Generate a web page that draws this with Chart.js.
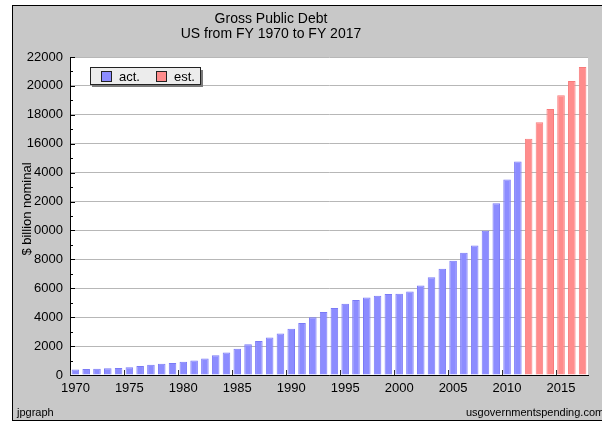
<!DOCTYPE html>
<html>
<head>
<meta charset="utf-8">
<script src="https://cdn.jsdelivr.net/npm/chart.js@4"></script>
<style>
  html, body { margin: 0; padding: 0; background: #fff; }
  #wrap { width: 602px; height: 422px; }
</style>
</head>
<body>
<div id="wrap"><canvas id="debt-chart" width="602" height="422"></canvas></div>
<script>
// Gross public debt, $ billion nominal
const years = [];
for (let y = 1970; y <= 2017; y++) years.push(String(y));

const actualDebt = [
    381, 408, 436, 466, 484, 542, 629, 706, 777, 829,        // 1970-1979
    909, 995, 1137, 1372, 1565, 1817, 2121, 2346, 2601, 2868, // 1980-1989
    3206, 3598, 4002, 4351, 4643, 4921, 5181, 5369, 5478, 5606, // 1990-1999
    5629, 5770, 6198, 6760, 7355, 7905, 8451, 8951, 9986, 11876, // 2000-2009
    13529, 14764 // 2010-2011
];
const estimatedDebt = [16340, 17490, 18410, 19350, 20340, 21310]; // 2012-2017

const titleLines = ["Gross Public Debt", "US from FY 1970 to FY 2017"];
const yAxisTitle = "$ billion nominal";
const footerLeft = "jpgraph";
const footerRight = "usgovernmentspending.com";

// pad the two series so both cover every year
const actSeries = years.map((y, i) => i < actualDebt.length ? actualDebt[i] : null);
const estSeries = years.map((y, i) => i < actualDebt.length ? null : estimatedDebt[i - actualDebt.length]);

const FONT = "'Liberation Sans', Arial, sans-serif";
Chart.defaults.font.family = FONT;
Chart.defaults.font.size = 13;
Chart.defaults.color = "#000";

// gray frame behind everything
const framePlugin = {
    id: "frame",
    beforeDraw(chart) {
        const ctx = chart.ctx;
        ctx.save();
        ctx.fillStyle = "#fff";
        ctx.fillRect(0, 0, chart.width, chart.height);
        ctx.fillStyle = "#c8c8c8";
        ctx.fillRect(12, 5, chart.width, 416);
        ctx.strokeStyle = "#000";
        ctx.lineWidth = 1;
        ctx.strokeRect(12.5, 5.5, chart.width + 10, 415);
        // white plot area
        const a = chart.chartArea;
        ctx.fillStyle = "#fff";
        ctx.fillRect(a.left, a.top, a.right - a.left, a.bottom - a.top);
        ctx.restore();
    }
};

// titles, tick marks, legend box, y title and footer
const decorPlugin = {
    id: "decor",
    afterDraw(chart) {
        const ctx = chart.ctx;
        const a = chart.chartArea;
        const xs = chart.scales.x;
        const ys = chart.scales.y;
        ctx.save();

        // title
        ctx.fillStyle = "#000";
        ctx.font = "14px " + FONT;
        ctx.textAlign = "center";
        ctx.textBaseline = "alphabetic";
        ctx.fillText(titleLines[0], 271, 23);
        ctx.fillText(titleLines[1], 271, 38);

        // y tick marks inside the plot (every 1000)
        ctx.strokeStyle = "#000";
        ctx.lineWidth = 1;
        for (let v = 0; v <= 22000; v += 1000) {
            const py = Math.round(ys.getPixelForValue(v)) + 0.5;
            ctx.beginPath();
            ctx.moveTo(a.left, py);
            ctx.lineTo(a.left + (v % 2000 === 0 ? 5 : 3), py);
            ctx.stroke();
        }
        // x tick marks at the 5 year labels
        const half = (xs.getPixelForValue(1) - xs.getPixelForValue(0)) / 2;
        ctx.strokeStyle = "#333";
        years.forEach((y, i) => {
            if (Number(y) % 5 !== 0) return;
            const px = Math.round(xs.getPixelForValue(i) - half) + 0.5;
            ctx.beginPath();
            ctx.moveTo(px, a.bottom);
            ctx.lineTo(px, a.bottom - 5);
            ctx.stroke();
        });

        // y axis title on a gray patch (it hides the leading 1 of some labels)
        const midY = 209;
        ctx.font = "13px " + FONT;
        const tw = ctx.measureText(yAxisTitle).width;
        ctx.fillStyle = "#c8c8c8";
        ctx.fillRect(20, midY - tw / 2 - 1, 14, tw + 2);
        ctx.translate(31, midY);
        ctx.rotate(-Math.PI / 2);
        ctx.fillStyle = "#000";
        ctx.textAlign = "center";
        ctx.fillText(yAxisTitle, 0, 0);
        ctx.setTransform(1, 0, 0, 1, 0, 0);

        // legend box with shadow
        ctx.fillStyle = "#7a7a7a";
        ctx.fillRect(92, 70, 111, 17);
        ctx.fillStyle = "#ececec";
        ctx.fillRect(90, 68, 110, 16);
        ctx.strokeStyle = "#222";
        ctx.strokeRect(90.5, 67.5, 110, 17);
        const items = chart.data.datasets.map((ds, i) => ({
            label: ds.label, fill: ds.backgroundColor, edge: "#222", x: i === 0 ? 101 : 156
        }));
        items.forEach(it => {
            ctx.fillStyle = it.fill;
            ctx.fillRect(it.x, 71, 10, 10);
            ctx.strokeStyle = it.edge;
            ctx.strokeRect(it.x + 0.5, 71.5, 10, 10);
            ctx.fillStyle = "#000";
            ctx.textAlign = "left";
            ctx.font = "13px " + FONT;
            ctx.fillText(it.label, it.x + 18, 81);
        });

        // footer
        ctx.font = "11px " + FONT;
        ctx.fillStyle = "#000";
        ctx.textAlign = "left";
        ctx.fillText(footerLeft, 17, 416);
        ctx.fillText(footerRight, 466, 416);

        ctx.restore();
    }
};

new Chart(document.getElementById("debt-chart"), {
    type: "bar",
    data: {
        labels: years,
        datasets: [
            {
                label: "act.",
                data: actSeries,
                backgroundColor: "#8c8cff",
                borderColor: "#7a7af6",
                borderWidth: 1,
                borderSkipped: "bottom",
            },
            {
                label: "est.",
                data: estSeries,
                backgroundColor: "#ff8c8c",
                borderColor: "#f87a7a",
                borderWidth: 1,
                borderSkipped: "bottom",
            },
        ],
    },
    options: {
        responsive: false,
        animation: false,
        grouped: false,
        barPercentage: 0.7,
        categoryPercentage: 1,
        layout: { padding: { left: 0, top: 57, right: 14, bottom: 0 } },
        plugins: {
            legend: { display: false },
            title: { display: false },
            tooltip: { enabled: false },
        },
        scales: {
            x: {
                grid: { display: false, drawTicks: false },
                border: { color: "#000", width: 1 },
                ticks: {
                    autoSkip: false,
                    maxRotation: 0,
                    padding: 6,
                    font: { size: 13 },
                    callback: function (value) {
                        const lab = this.getLabelForValue(value);
                        return Number(lab) % 5 === 0 ? lab : "";
                    },
                },
                afterFit: s => { s.height = 47; },
            },
            y: {
                min: 0,
                max: 22000,
                z: 1,
                grid: { color: "rgba(170,170,170,0.85)", drawTicks: false },
                border: { color: "#000", width: 1 },
                ticks: {
                    stepSize: 2000,
                    padding: 7,
                    font: { size: 13 },
                    callback: value => String(value),
                },
                afterFit: s => { s.width = 70; },
            },
        },
    },
    plugins: [framePlugin, decorPlugin],
});
</script>
</body>
</html>
